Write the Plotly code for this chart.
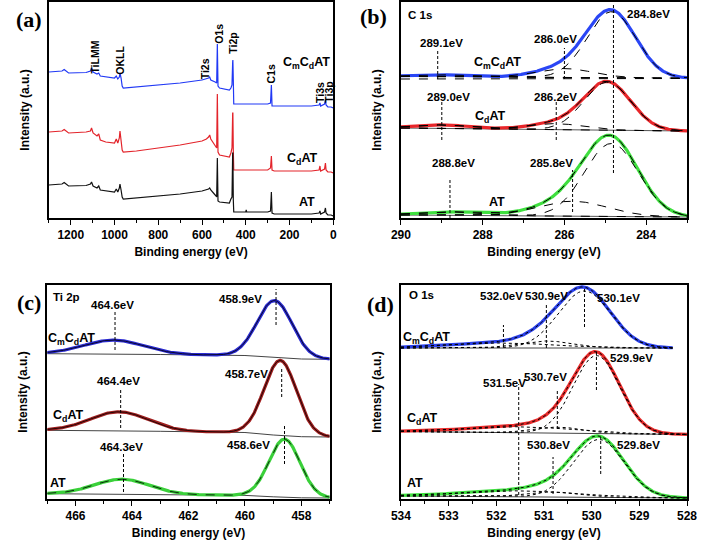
import numpy as np
import plotly.graph_objects as go

# ---------------- (a) survey spectra: binding energy (eV) and intensity (a.u.)
survey_be = [1300, 1240, 1230, 1220, 1210, 1130, 1110, 1105, 1098, 1080, 1072, 1065, 1040, 1000,
             992, 985, 978, 975, 970, 965, 960, 900, 800, 700, 600, 580, 570, 565, 560, 540,
             533, 530, 527, 520, 475, 468, 463, 460, 459, 457, 455, 400, 398, 396, 300, 287, 283,
             280, 270, 100, 65, 61, 58, 40, 36, 33, 25, 10, 0]
survey_CmCdAT = [146, 147, 148.5, 147, 145, 145.5, 147, 150, 146, 144, 145, 142, 141, 140,
                 142, 139, 141, 145, 140, 132, 130, 131, 133, 135, 138, 139, 140, 141, 138, 136,
                 135, 174, 132, 130, 128, 130, 133, 156, 158, 138, 114, 114, 114, 114, 114, 115, 133,
                 112, 112, 112, 113, 115, 112, 114, 118, 113, 111, 111, 110]
survey_CdAT = [86, 87, 88.5, 87, 85, 86, 87, 90, 85, 82, 84, 78, 76, 75,
               79, 75, 80, 87, 78, 68, 66, 67, 70, 73, 77, 79, 81, 83, 79, 73,
               70, 124, 66, 63, 61, 65, 70, 105, 105, 68, 48, 48, 48, 48, 48, 50, 62,
               48, 47, 47, 48, 52, 47, 49, 55, 48, 46, 46, 45]
survey_AT = [33, 34, 35.5, 34, 32, 32.5, 34, 36, 32, 30, 32, 28, 27, 26,
             29, 26, 30, 34, 28, 21, 19, 20, 22, 24, 27, 28, 29, 30, 28, 23,
             21, 60, 17, 16, 15, 19, 21, 65, 65, 18, 6, 6, 8, 6, 6, 7, 26,
             5, 4, 4, 5, 7, 4, 6, 10, 5, 3, 3, 2]
survey_labels = ["TiLMM", "OKLL", "Ti2s", "O1s", "Ti2p", "C1s", "Ti3s", "Ti3p"]
survey_label_be = [1091, 976, 585, 523, 460, 287, 61, 21]
survey_label_y = [161, 158, 149, 184, 175, 144, 126, 126]
sample_names = ["C<sub>m</sub>C<sub>d</sub>AT", "C<sub>d</sub>AT", "AT"]
survey_name_be = [122, 145, 119]
survey_name_y = [155, 59, 16]

# ---------------- (b) C 1s fitted components: centre (eV), height, FWHM (eV)
c1s_center = {"CmCdAT": [284.85, 286.0, 289.1], "CdAT": [284.95, 286.2, 289.0], "AT": [284.85, 285.8, 288.8]}
c1s_height = {"CmCdAT": [66, 9, 2], "CdAT": [48, 6, 3.5], "AT": [73, 15, 3.5]}
c1s_fwhm = {"CmCdAT": [1.4, 1.6, 1.5], "CdAT": [1.35, 1.5, 1.6], "AT": [1.55, 2.0, 1.8]}
c1s_base_be = [290, 283]
c1s_base = {"CmCdAT": [141.5, 139.8], "CdAT": [90, 87], "AT": [3, 1]}
c1s_mark_be = [284.8, 286.0, 289.1, 289.0, 286.2, 288.8, 285.8]
c1s_mark_y0 = [45, 139, 139, 78, 78, 0, 6]
c1s_mark_y1 = [213, 170, 168, 118, 118, 40, 48]
c1s_text = ["284.8eV", "289.1eV", "286.0eV", "289.0eV", "286.2eV", "288.8eV", "285.8eV"]
c1s_text_be = [283.94, 289.01, 286.22, 288.84, 286.22, 288.72, 286.32]
c1s_text_y = [204, 175, 179, 121, 121, 55, 55]
c1s_name_be = [287.63, 287.82, 287.65]
c1s_name_y = [155, 101, 16]

# ---------------- (c) Ti 2p
ti_center = {"CmCdAT": [458.95, 464.65], "CdAT": [458.75, 464.45], "AT": [458.6, 464.35]}
ti_height = {"CmCdAT": [57, 14], "CdAT": [75, 19], "AT": [58, 15]}
ti_fwhm = {"CmCdAT": [1.45, 2.5], "CdAT": [1.35, 2.4], "AT": [1.3, 2.3]}
ti_base_be = [467, 465, 463, 460, 459, 458, 457]
ti_base = {"CmCdAT": [145.3, 145, 144.5, 143.5, 141.5, 140, 139.7],
           "CdAT": [68.7, 68.4, 67.7, 66.5, 64, 62.3, 62],
           "AT": [5.3, 5, 4.4, 3.6, 2.2, 1.2, 1]}
ti_mark_be = [464.6, 458.9, 464.4, 458.7, 464.3, 458.6]
ti_mark_y0 = [149, 174, 71, 102, 7, 35]
ti_mark_y1 = [187, 210, 109, 130, 47, 74]
ti_text = ["464.6eV", "458.9eV", "464.4eV", "458.7eV", "464.3eV", "458.6eV"]
ti_text_be = [464.70, 460.16, 464.46, 459.96, 464.36, 459.89]
ti_text_y = [194, 200, 118, 125, 52, 54]
ti_name_be = [466.15, 466.25, 466.63]
ti_name_y = [160, 83, 16]

# ---------------- (d) O 1s
o1s_center = {"CmCdAT": [530.15, 530.95, 531.9], "CdAT": [529.9, 530.7, 531.5], "AT": [529.85, 530.8, 531.5]}
o1s_height = {"CmCdAT": [57, 7, 5], "CdAT": [78, 6, 6], "AT": [58, 5, 6]}
o1s_fwhm = {"CmCdAT": [1.3, 1.3, 2.6], "CdAT": [1.15, 1.2, 2.6], "AT": [1.25, 1.3, 2.8]}
o1s_end = {"CmCdAT": 528.3, "CdAT": 528.0, "AT": 528.0}
o1s_base = {"CmCdAT": [151, 151], "CdAT": [67.5, 64.5], "AT": [3, 1]}
o1s_mark_be = [531.85, 530.95, 530.15, 531.53, 530.72, 529.9, 530.81, 529.81]
o1s_mark_y0 = [152, 151, 172, 4, 70, 109, 5, 25]
o1s_mark_y1 = [174, 195, 211, 115, 110, 147, 42, 62]
o1s_text = ["532.0eV", "530.9eV", "530.1eV", "529.9eV", "530.7eV", "531.5eV", "530.8eV", "529.8eV"]
o1s_text_be = [531.89, 530.95, 529.44, 529.16, 530.97, 531.83, 530.91, 529.01]
o1s_text_y = [203, 203, 201, 141, 122, 116, 54, 54]
o1s_name_be = [533.46, 533.56, 533.7]
o1s_name_y = [161, 80, 16]

samples = ["CmCdAT", "CdAT", "AT"]

# ---------------- layout helpers
W, H = 708, 543
FONT = "Liberation Sans, Arial, sans-serif"
MARK_DASH = "3px,2px"


def hdom(x0, x1):
    return [x0 / W, x1 / W]


def vdom(top, bottom):
    return [1 - bottom / H, 1 - top / H]


def gauss(x, c, a, w):
    return a * np.exp(-4 * np.log(2) * (x - c) ** 2 / w ** 2)


fig = go.Figure()


def add(x, y, ax, color, width, dash="solid"):
    fig.add_trace(go.Scatter(x=x, y=y, mode="lines", xaxis="x" + ax, yaxis="y" + ax,
                             line=dict(color=color, width=width, dash=dash),
                             hoverinfo="skip", showlegend=False))


def note(text, x, y, ax, size=11.5, angle=0, xanchor="center"):
    fig.add_annotation(text="<b>" + text + "</b>", x=x, y=y, xref="x" + ax, yref="y" + ax,
                       showarrow=False, textangle=angle, xanchor=xanchor, yanchor="middle",
                       font=dict(family=FONT, size=size, color="black"))


# (a)
surv_colors = ["#2139f5", "#e3242b", "#111111"]
for ys, col in zip([survey_CmCdAT, survey_CdAT, survey_AT], surv_colors):
    add(survey_be, ys, "", col, 1.2)
for t, x, y in zip(survey_labels, survey_label_be, survey_label_y):
    note(t, x, y, "", size=10.5, angle=-90)
for t, x, y in zip(sample_names, survey_name_be, survey_name_y):
    note(t, x, y, "", size=12.5)

# (b)
b_colors = {"CmCdAT": "#2a46f5", "CdAT": "#e8262a", "AT": "#3fe03f"}
xb = np.linspace(290, 283, 500)
for s in samples:
    base = np.interp(xb, c1s_base_be[::-1], c1s_base[s][::-1])
    comps = [gauss(xb, c, a, w) for c, a, w in zip(c1s_center[s], c1s_height[s], c1s_fwhm[s])]
    env = base + sum(comps)
    if s == "CmCdAT":
        add(c1s_base_be, c1s_base[s], "2", "black", 1, "dash")
        add(c1s_base_be, [c1s_base[s][0] - 2.5, c1s_base[s][1] - 0.3], "2", "black", 1, "dash")
    else:
        add(c1s_base_be, c1s_base[s], "2", "#555555", 1)
    add(xb, env, "2", b_colors[s], 3.2)
    for comp in comps:
        add(xb, base + comp, "2", "black", 1, "dash")
    if s != "CmCdAT":
        add(xb, env, "2", "black", 1, "dash")
for x, y0, y1 in zip(c1s_mark_be, c1s_mark_y0, c1s_mark_y1):
    add([x, x], [y0, y1], "2", "black", 1, MARK_DASH)
for t, x, y in zip(c1s_text, c1s_text_be, c1s_text_y):
    note(t, x, y, "2")
for t, x, y in zip(sample_names, c1s_name_be, c1s_name_y):
    note(t, x, y, "2", size=12.5)
note("C 1s", 289.88, 203, "2", size=11.5, xanchor="left")

# (c)
c_colors = {"CmCdAT": "#2a2ad2", "CdAT": "#a01e1e", "AT": "#3ad03a"}
xc = np.linspace(467, 457, 500)
for s in samples:
    base = np.interp(xc, ti_base_be[::-1], ti_base[s][::-1])
    comps = [gauss(xc, c, a, w) for c, a, w in zip(ti_center[s], ti_height[s], ti_fwhm[s])]
    env = base + sum(comps)
    add(ti_base_be, ti_base[s], "3", "#444444", 1)
    add(xc, env, "3", c_colors[s], 3.2)
    add(xc, env, "3", "black", 0.8, "dash" if s == "AT" else "solid")
for x, y0, y1 in zip(ti_mark_be, ti_mark_y0, ti_mark_y1):
    add([x, x], [y0, y1], "3", "black", 1, MARK_DASH)
for t, x, y in zip(ti_text, ti_text_be, ti_text_y):
    note(t, x, y, "3")
for t, x, y in zip(sample_names, ti_name_be, ti_name_y):
    note(t, x, y, "3", size=12.5)
note("Ti 2p", 466.87, 202, "3", size=11.5, xanchor="left")

# (d)
d_colors = {"CmCdAT": "#2a40ea", "CdAT": "#e82a2a", "AT": "#3fe03f"}
for s in samples:
    xd = np.linspace(534, o1s_end[s], 500)
    base = np.interp(xd, [o1s_end[s], 534], o1s_base[s][::-1])
    comps = [gauss(xd, c, a, w) for c, a, w in zip(o1s_center[s], o1s_height[s], o1s_fwhm[s])]
    env = base + sum(comps)
    add([534, o1s_end[s]], o1s_base[s], "4", "#444444", 1)
    add(xd, env, "4", d_colors[s], 3.2)
    for comp in comps:
        add(xd, base + comp, "4", "black", 1, "dot")
    add(xd, env, "4", "black", 1, "dot")
for x, y0, y1 in zip(o1s_mark_be, o1s_mark_y0, o1s_mark_y1):
    add([x, x], [y0, y1], "4", "black", 1, MARK_DASH)
for t, x, y in zip(o1s_text, o1s_text_be, o1s_text_y):
    note(t, x, y, "4")
for t, x, y in zip(sample_names, o1s_name_be, o1s_name_y):
    note(t, x, y, "4", size=12.5)
note("O 1s", 533.88, 204, "4", size=11.5, xanchor="left")

# axes
tickfont = dict(family=FONT, size=12, color="black", weight="bold")
titlefont = dict(family=FONT, size=12, color="black", weight="bold")


def xax(rng, dtick, mdtick, dom, anchor):
    return dict(range=rng, domain=dom, anchor=anchor, dtick=dtick, tick0=0,
                showline=True, mirror=True, linecolor="black", linewidth=1.6,
                ticks="outside", ticklen=5, tickwidth=1.4, tickcolor="black",
                minor=dict(dtick=mdtick, tick0=0, ticks="outside", ticklen=3, tickwidth=1.2, tickcolor="black"),
                showgrid=False, zeroline=False, tickfont=tickfont,
                title=dict(text="Binding energy (eV)", font=titlefont, standoff=6))


def yax(dom, anchor, top):
    return dict(range=[0, top], domain=dom, anchor=anchor, showline=True, mirror=True,
                linecolor="black", linewidth=1.6, showticklabels=False, ticks="",
                showgrid=False, zeroline=False,
                title=dict(text="Intensity (a.u.)", font=titlefont, standoff=15))


fig.update_layout(
    width=W, height=H, margin=dict(l=0, r=0, t=0, b=0),
    paper_bgcolor="white", plot_bgcolor="white", showlegend=False,
    xaxis=xax([1300, 0], 200, 100, hdom(40, 332.7), "y"),
    yaxis=yax(vdom(2, 218), "x", 216),
    xaxis2=xax([290, 283], 2, 1, hdom(402.3, 696.7), "y2"),
    yaxis2=yax(vdom(2, 218), "x2", 216),
    xaxis3=xax([467, 457], 2, 1, hdom(38.3, 329), "y3"),
    yaxis3=yax(vdom(285, 499), "x3", 214),
    xaxis4=xax([534, 528], 1, 0.5, hdom(402.3, 696.7), "y4"),
    yaxis4=yax(vdom(285, 499), "x4", 214),
)

for lab, px, py in [("(a)", 20, 19), ("(b)", 374, 16), ("(c)", 20, 302), ("(d)", 381, 304)]:
    fig.add_annotation(text="<b>" + lab + "</b>", x=px / W, y=1 - py / H, xref="paper", yref="paper",
                       xanchor="center", yanchor="middle", showarrow=False,
                       font=dict(family="Liberation Serif, Times New Roman, serif", size=22, color="black"))

fig.write_html("out.html", config={"displayModeBar": False},
               post_script="document.body.style.margin='0px';")
